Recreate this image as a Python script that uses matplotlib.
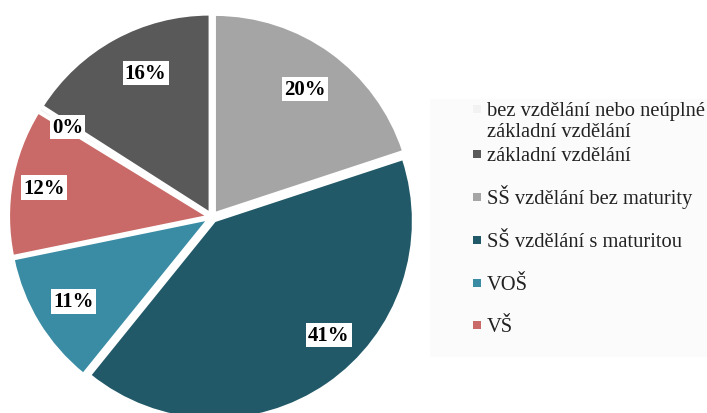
import matplotlib
matplotlib.use('Agg')
from matplotlib import pyplot as plt
from matplotlib.patches import Rectangle
import numpy as np

# education categories (legend order) and shares in %
CATEGORIES = ['bez vzdělání nebo neúplné\nzákladní vzdělání',
              'základní vzdělání',
              'SŠ vzdělání bez maturity',
              'SŠ vzdělání s maturitou',
              'VOŠ',
              'VŠ']
SHARES = [0.3, 16, 20, 41, 11, 12]
PCT_LABELS = ['0%', '16%', '20%', '41%', '11%', '12%']
COLORS = ['#f2f2f2', '#595959', '#a5a5a5', '#215968', '#3a8ca4', '#c96a68']

plt.rcParams['font.family'] = ['Liberation Serif', 'DejaVu Serif']

fig = plt.figure(figsize=(7.07, 4.14), dpi=100)
fig.patch.set_facecolor('white')

# pie axes, radius 1 ~ 198 px
ax = fig.add_axes([4 / 707, -12 / 414, 416 / 707, 416 / 414])
start = 90 + (SHARES[0] + SHARES[1]) / sum(SHARES) * 360
wedges, _ = ax.pie(SHARES, colors=COLORS, startangle=start, counterclock=False,
                   explode=[0.025] * len(SHARES),
                   wedgeprops=dict(edgecolor='white', linewidth=1.5))
ax.set_xlim(-1.05, 1.05)
ax.set_ylim(-1.05, 1.05)
ax.set_aspect('equal')
ax.axis('off')

# percentage labels in white boxes (best-fit style offsets)
dist = [0.86, 0.8, 0.8, 0.84, 0.82, 0.86]
turn = [0, -4, 0, 10, 0, 0]
for w, lab, r, t in zip(wedges, PCT_LABELS, dist, turn):
    mid = np.deg2rad((w.theta1 + w.theta2) / 2 + t)
    ax.text(r * np.cos(mid), r * np.sin(mid), lab, ha='center', va='center',
            fontsize=15, fontweight='bold', color='black',
            bbox=dict(boxstyle='square,pad=0.1', facecolor='white',
                      edgecolor='none'))

# legend drawn by hand on a light panel
lax = fig.add_axes([0, 0, 1, 1])
lax.set_xlim(0, 707)
lax.set_ylim(414, 0)
lax.axis('off')
lax.add_patch(Rectangle((430, 100), 290, 258, facecolor='#fbfbfb',
                        edgecolor='none'))
rows = [110, 155, 198, 241, 284, 326]
for y, col, lab in zip(rows, COLORS, CATEGORIES):
    lax.add_patch(Rectangle((473, y - 4), 8, 8, facecolor=col, edgecolor='none'))
    for i, line in enumerate(lab.split('\n')):
        lax.text(487, y + 6 + 21 * i, line, ha='left', va='baseline',
                 fontsize=14.8, color='#222222')

fig.savefig('out.png', dpi=100)
